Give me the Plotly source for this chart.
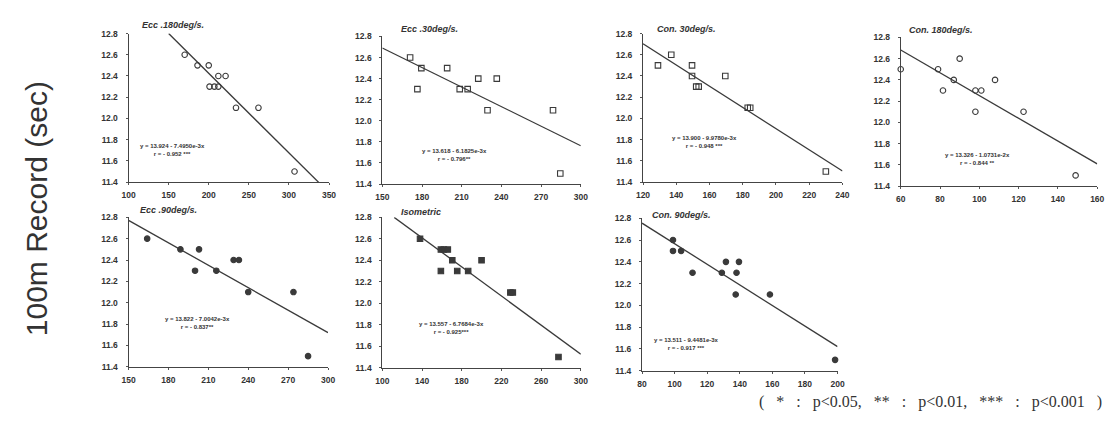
import plotly.graph_objects as go

W, H = 1114, 443

# ---------------- data ----------------
titles = ["Ecc .180deg/s.", "Ecc .30deg/s.", "Con. 30deg/s.", "Con. 180deg/s.",
          "Ecc .90deg/s.", "Isometric", "Con. 90deg/s."]

ecc180_x = [170, 186, 200, 201, 207, 212, 212, 221, 234, 262, 307]
ecc180_y = [12.6, 12.5, 12.5, 12.3, 12.3, 12.3, 12.4, 12.4, 12.1, 12.1, 11.5]

ecc30_x = [171, 179.5, 176.5, 199, 208.5, 214.5, 222.5, 236.5, 229.5, 279, 284.5]
ecc30_y = [12.6, 12.5, 12.3, 12.5, 12.3, 12.3, 12.4, 12.4, 12.1, 12.1, 11.5]

con30_x = [129, 137, 149.5, 149.5, 152, 153.5, 169.5, 183, 184.5, 230]
con30_y = [12.5, 12.6, 12.5, 12.4, 12.3, 12.3, 12.4, 12.1, 12.1, 11.5]

con180_x = [60, 79, 81.5, 87, 90, 98, 101, 98, 108, 122.5, 149]
con180_y = [12.5, 12.5, 12.3, 12.4, 12.6, 12.3, 12.3, 12.1, 12.4, 12.1, 11.5]

ecc90_x = [164, 189, 203, 200, 216, 229, 233, 240, 274, 285]
ecc90_y = [12.6, 12.5, 12.5, 12.3, 12.3, 12.4, 12.4, 12.1, 12.1, 11.5]

iso_x = [138, 159, 162, 166, 170.5, 159, 175.5, 186.5, 200, 229, 231.5, 277.5]
iso_y = [12.6, 12.5, 12.5, 12.5, 12.4, 12.3, 12.3, 12.3, 12.4, 12.1, 12.1, 11.5]

con90_x = [99, 99, 104, 111, 129, 131.5, 138, 139.5, 137.5, 158.5, 198.5]
con90_y = [12.6, 12.5, 12.5, 12.3, 12.3, 12.4, 12.3, 12.4, 12.1, 12.1, 11.5]

# regression: intercept, slope, x-extent of the drawn line
intercepts = [13.924, 13.618, 13.900, 13.326, 13.822, 13.557, 13.511]
slopes = [-7.4950e-3, -6.1825e-3, -9.9780e-3, -1.0731e-2, -7.0042e-3, -6.7684e-3, -9.4481e-3]
line_x0 = [150, 150, 120, 60, 150, 112, 80]
line_x1 = [340, 300, 240, 160, 300, 300, 200]

eq_text = ["y = 13.924 - 7.4950e-3x", "y = 13.618 - 6.1825e-3x", "y = 13.900 - 9.9780e-3x",
           "y = 13.326 - 1.0731e-2x", "y = 13.822 - 7.0042e-3x", "y = 13.557 - 6.7684e-3x",
           "y = 13.511 - 9.4481e-3x"]
r_text = ["r = - 0.952 ***", "r = - 0.796**", "r = - 0.948 ***", "r = - 0.844 **",
          "r = - 0.837**", "r = - 0.925***", "r = - 0.917 ***"]

x_ranges = [(100, 350), (150, 300), (120, 240), (60, 160), (150, 300), (100, 300), (80, 200)]
x_dticks = [50, 30, 20, 20, 30, 40, 20]
y_range = (11.4, 12.8)
y_dtick = 0.2

xs = [ecc180_x, ecc30_x, con30_x, con180_x, ecc90_x, iso_x, con90_x]
ys = [ecc180_y, ecc30_y, con30_y, con180_y, ecc90_y, iso_y, con90_y]
symbols = ["circle-open", "square-open", "square-open", "circle-open",
           "circle", "square", "circle"]

# ---------------- layout (pixels) ----------------
boxes = [(115, 318, 21, 173), (372, 573, 24, 175), (636, 838, 21, 173), (897, 1096, 25, 177),
         (115, 317, 209, 362), (372, 573, 209, 363), (635, 833, 210, 366)]
title_pos = [(127, 12), (389, 16), (648, 16), (903, 17), (125, 202), (389, 204), (643, 207)]
eq_pos = [(160, 140), (445, 145), (698, 132), (975, 149), (185, 317), (442, 322), (680, 339)]

ink = "#333333"
fig = go.Figure()
annotations = []
layout_axes = {}

for i in range(7):
    k = "" if i == 0 else str(i + 1)
    xa, ya = "x" + k, "y" + k
    x0, x1, y0, y1 = boxes[i]
    layout_axes["xaxis" + k] = dict(
        domain=[x0 / W, x1 / W], anchor=ya, range=list(x_ranges[i]),
        tick0=x_ranges[i][0], dtick=x_dticks[i],
        showline=True, linecolor="#444", linewidth=1, mirror=False,
        showgrid=False, zeroline=False, ticks="outside", ticklen=2, tickcolor="#555",
        tickfont=dict(family="Liberation Sans, Arial", size=8.5, color=ink, weight="bold"),
        ticklabelstandoff=3,
    )
    layout_axes["yaxis" + k] = dict(
        domain=[1 - y1 / H, 1 - y0 / H], anchor=xa, range=list(y_range),
        tick0=11.4, dtick=y_dtick, tickformat=".1f",
        showline=True, linecolor="#444", linewidth=1,
        showgrid=False, zeroline=False, ticks="outside", ticklen=2, tickcolor="#555",
        tickfont=dict(family="Liberation Sans, Arial", size=8.5, color=ink, weight="bold"),
        ticklabelstandoff=6,
    )
    fig.add_trace(go.Scatter(
        x=xs[i], y=ys[i], mode="markers", xaxis=xa, yaxis=ya,
        marker=dict(symbol=symbols[i], size=5.5, color="#3a3a3a",
                    line=dict(color="#3a3a3a", width=1.1)),
        showlegend=False, cliponaxis=False))
    lx = [line_x0[i], line_x1[i]]
    ly = [intercepts[i] + slopes[i] * v for v in lx]
    fig.add_trace(go.Scatter(
        x=lx, y=ly, mode="lines", xaxis=xa, yaxis=ya,
        line=dict(color="#3a3a3a", width=1.3), showlegend=False, cliponaxis=False))
    tx, ty = title_pos[i]
    annotations.append(dict(
        x=tx / W, y=1 - ty / H, xref="paper", yref="paper", xanchor="left", yanchor="middle",
        text="<b><i>" + titles[i] + "</i></b>", showarrow=False,
        font=dict(family="Liberation Sans, Arial", size=9, color=ink)))
    ex, ey = eq_pos[i]
    annotations.append(dict(
        x=ex / W, y=1 - ey / H, xref="paper", yref="paper", xanchor="center", yanchor="middle",
        text="<b>" + eq_text[i] + "<br>" + r_text[i] + "</b>", showarrow=False, align="center",
        font=dict(family="Liberation Sans, Arial", size=6, color=ink)))

annotations.append(dict(
    x=22 / W, y=1 - 200 / H, xref="paper", yref="paper", xanchor="center", yanchor="middle",
    text="100m Record (sec)", textangle=-90, showarrow=False,
    font=dict(family="Liberation Sans, Arial", size=30, color="#333")))
sp = "&nbsp;" * 3
foot = ("(" + sp + "*" + sp + ":" + sp + "p&lt;0.05," + sp + "**" + sp + ":" + sp + "p&lt;0.01,"
        + sp + "***" + sp + ":" + sp + "p&lt;0.001" + sp + ")")
annotations.append(dict(
    x=1103 / W, y=1 - 398 / H, xref="paper", yref="paper", xanchor="right", yanchor="middle",
    text=foot, showarrow=False,
    font=dict(family="Liberation Serif, Times New Roman", size=16, color="#333")))

fig.update_layout(
    width=W, height=H, margin=dict(l=0, r=0, t=0, b=0),
    paper_bgcolor="white", plot_bgcolor="white",
    annotations=annotations, **layout_axes)

fig.write_html("out.html")
